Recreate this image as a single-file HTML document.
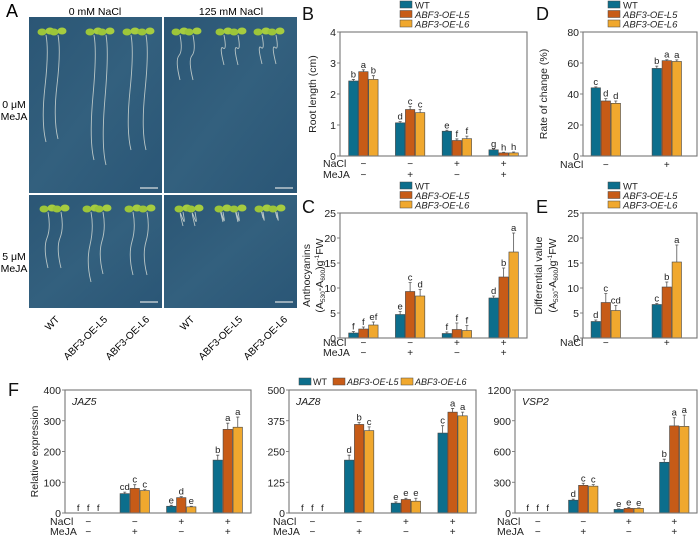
<!DOCTYPE html>
<html><head><meta charset="utf-8">
<style>
html,body{margin:0;padding:0;background:#fff;}
svg{display:block;font-family:"Liberation Sans",Arial,sans-serif;}
</style></head>
<body>
<svg id="fig" width="700" height="536" viewBox="0 0 700 536" xmlns="http://www.w3.org/2000/svg">
<defs>
<linearGradient id="plate" x1="0" y1="0" x2="1" y2="1">
<stop offset="0" stop-color="#2b5675"/><stop offset="0.5" stop-color="#33607e"/><stop offset="1" stop-color="#2a5676"/>
</linearGradient>
</defs>
<g id="panelA">
<text x="6" y="17" font-size="18">A</text>
<text x="95" y="15" font-size="10.5" text-anchor="middle">0 mM NaCl</text>
<text x="231" y="15" font-size="10.5" text-anchor="middle">125 mM NaCl</text>
<text x="14" y="108" font-size="10.5" text-anchor="middle">0 μM</text>
<text x="14" y="120" font-size="10.5" text-anchor="middle">MeJA</text>
<text x="14" y="260" font-size="10.5" text-anchor="middle">5 μM</text>
<text x="14" y="272" font-size="10.5" text-anchor="middle">MeJA</text>
<rect x="29" y="17" width="133" height="176" fill="url(#plate)"/>
<rect x="164" y="17" width="133" height="176" fill="url(#plate)"/>
<rect x="29" y="195" width="133" height="113" fill="url(#plate)"/>
<rect x="164" y="195" width="133" height="113" fill="url(#plate)"/>
<g id="seedlings"></g>
</g>
<g id="charts"></g>
</svg>
<script>
const NS="http://www.w3.org/2000/svg";
const root=document.getElementById('charts');
function mk(tag,attrs,parent){const e=document.createElementNS(NS,tag);for(const k in attrs)e.setAttribute(k,attrs[k]);(parent||root).appendChild(e);return e;}

// ---- seedlings (photo panel) ----
const sg=document.getElementById('seedlings');
const seedX=[[46,58,94,106,131,146],[180,193,224,238,262,276],[48,61,91,103,133,147],[183,195,223,238,263,277]];
const rootEnd=[[142,139,160,165,150,150],[80,80,65,65,64,64],[268,268,282,274,275,275],[226,226,222,222,218,218]];
const panTop=[31,31,208,208];
for(let p=0;p<4;p++){
  for(let i=0;i<6;i++){
    const x=seedX[p][i],y=panTop[p];
    const r=mk('path',{d:`M${x} ${y+4} Q${x+3} ${y+20} ${x-1} ${(y+rootEnd[p][i])/2} T${x} ${rootEnd[p][i]}`,stroke:'#b9c6c6',fill:'none','stroke-width':'0.9'},sg);
    
    
    const c1=mk('ellipse',{cx:x-4,cy:y+1,rx:4.5,ry:3.5,fill:'#9cc53a'},sg);
    
    
    const c2=mk('ellipse',{cx:x+4,cy:y,rx:4.5,ry:3.5,fill:'#a6cc40'},sg);
    
    
  }
}
[[140,188],[275,188],[140,302],[275,302]].forEach(s=>{
  const l=mk('line',{x1:s[0],x2:s[0]+18,y1:s[1],y2:s[1],stroke:'#d8dde0','stroke-width':'1.3'},sg);
  
  
});
const genoLabels=['WT','ABF3-OE-L5','ABF3-OE-L6','WT','ABF3-OE-L5','ABF3-OE-L6'];
const genoX=[60,108,150,195,243,288];
genoLabels.forEach((t,i)=>{
  const e=mk('text',{x:genoX[i],y:320,'font-size':'10','text-anchor':'end',transform:`rotate(-45 ${genoX[i]} 320)`},sg);
  e.textContent=t;
  
  
});

// ---- chart data ----
const bWT=[2.42,1.07,0.8,0.2], bL5=[2.72,1.5,0.5,0.1], bL6=[2.47,1.4,0.56,0.1];
const bErrWT=[0.05,0.04,0.03,0.03], bErrL5=[0.06,0.1,0.05,0.02], bErrL6=[0.12,0.1,0.08,0.03];
const bLetters=[['b','d','e','g'],['a','c','f','h'],['b','c','f','h']];
const bTicks=[0,1,2,3,4];

const dWT=[44,56.5], dL5=[35.5,61.5], dL6=[34,61];
const dErrWT=[0.6,1.5], dErrL5=[1.5,0.6], dErrL6=[1.5,1];
const dLetters=[['c','b'],['d','a'],['d','a']];
const dTicks=[0,20,40,60,80];

const cWT=[1,4.7,0.9,8], cL5=[1.8,9.3,1.7,12.2], cL6=[2.6,8.4,1.5,17.2];
const cErrWT=[0.3,0.6,0.3,0.4], cErrL5=[0.4,1.8,1.3,1.8], cErrL6=[0.6,1.3,1.0,3.8];
const cLetters=[['f','e','f','d'],['f','c','f','b'],['ef','d','f','a']];
const cTicks=[0,5,10,15,20,25];

const eWT=[3.3,6.7], eL5=[7.1,10.2], eL6=[5.5,15.2];
const eErrWT=[0.3,0.2], eErrL5=[1.8,1.0], eErrL6=[1.0,3.4];
const eLetters=[['d','c'],['c','b'],['cd','a']];
const eTicks=[0,5,10,15,20,25];

const jaz5WT=[0,63,22,172], jaz5L5=[0,80,50,272], jaz5L6=[0,73,20,279];
const jaz5ErrWT=[0,5,3,16], jaz5ErrL5=[0,12,3,20], jaz5ErrL6=[0,3,2,33];
const jaz5Letters=[['f','cd','e','b'],['f','c','d','a'],['f','c','e','a']];
const jaz5Ticks=[0,100,200,300,400];

const jaz8WT=[0,215,40,325], jaz8L5=[0,360,55,410], jaz8L6=[0,335,48,395];
const jaz8ErrWT=[0,20,5,30], jaz8ErrL5=[0,8,5,15], jaz8ErrL6=[0,15,12,15];
const jaz8Letters=[['f','d','e','c'],['f','b','e','a'],['f','c','e','a']];
const jaz8Ticks=[0,125,250,375,500];

const vspWT=[0,125,35,495], vspL5=[0,270,45,850], vspL6=[0,262,45,845];
const vspErrWT=[0,10,5,30], vspErrL5=[0,20,10,80], vspErrL6=[0,15,5,110];
const vspLetters=[['f','d','e','b'],['f','c','e','a'],['f','c','e','a']];
const vspTicks=[0,300,600,900,1200];

const naclRow4=['−','−','+','+'], mejaRow4=['−','+','−','+'];
const naclRow2=['−','+'];
const seriesNames=['WT','ABF3-OE-L5','ABF3-OE-L6'];
const colors=['#0c6e8c','#c75b17','#f0a82e'];

function chart(o){
  const g=mk('g',{});
  
  
  const max=o.ticks[o.ticks.length-1];
  const yS=v=>o.y1-(v/max)*(o.y1-o.y0);
  const n=o.series[0].length;
  const xC=i=> o.centers ? o.x0+(o.x1-o.x0)*o.centers[i] : o.x0+(i+0.5)*(o.x1-o.x0)/n;
  const bw=9.4;
  o.ticks.forEach(t=>{
    const y=yS(t);
    const tl=mk('line',{x1:o.x0-3,x2:o.x0,y1:y,y2:y,stroke:'#666','stroke-width':'0.8'},g);
    
    
    const tt=mk('text',{x:o.x0-4,y:y+4,'font-size':'10.5','text-anchor':'end',fill:'#222'},g);
    tt.textContent=t;
    
    
  });
  for(let s=0;s<3;s++){
    for(let i=0;i<n;i++){
      const v=o.series[s][i],e=o.err[s][i];
      const cx=xC(i)+(s-1)*(bw+0.6);
      const yt=yS(v);
      if(v>0){
        const r=mk('rect',{x:cx-bw/2,y:yt,width:bw,height:o.y1-yt,fill:colors[s],stroke:'#444','stroke-width':'0.6'},g);
        
        
      }
      const ye=yS(v+e);
      if(e>0){
        const el=mk('path',{d:`M${cx} ${yt} V${ye} M${cx-1.5} ${ye} H${cx+1.5}`,stroke:'#555','stroke-width':'0.8',fill:'none'},g);
        
        
      }
      const lt=mk('text',{x:cx,y:Math.min(ye,yt)-2,'font-size':'9.5','text-anchor':'middle',fill:'#222'},g);
      lt.textContent=o.letters[s][i];
      
      
    }
  }
  const bx=mk('rect',{x:o.x0,y:o.y0,width:o.x1-o.x0,height:o.y1-o.y0,fill:'none',stroke:'#777','stroke-width':'1.1'},g);
  
  
  o.rows.forEach((row,ri)=>{
    const ry=o.rowY[ri];
    const lab=mk('text',{x:o.rowLabelX,y:ry,'font-size':'10.5',fill:'#222'},g);
    lab.textContent=row[0];
    
    
    row[1].forEach((sgn,i)=>{
      const t=mk('text',{x:xC(i),y:ry,'font-size':'10','text-anchor':'middle',fill:'#222'},g);
      t.textContent=sgn;
      
      
    });
  });
  o.title.forEach((line,li)=>{
    const tx=o.titleX[li], ty=(o.y0+o.y1)/2;
    const t=mk('text',{x:tx,y:ty,'font-size':'10.5','text-anchor':'middle',transform:`rotate(-90 ${tx} ${ty})`,fill:'#222'},g);
    t.innerHTML=line;
    
    
  });
  if(o.gene){
    const t=mk('text',{x:o.x0+7,y:o.y0+15,'font-size':'10.5','font-style':'italic',fill:'#222'},g);
    t.textContent=o.gene;
    
    
  }
  if(o.panel){
    const t=mk('text',{x:o.panel[1],y:o.panel[2],'font-size':'18',fill:'#111'},g);
    t.textContent=o.panel[0];
    
    
  }
  if(o.legend){
    seriesNames.forEach((nm,s)=>{
      const ly=o.legend[1]+s*9.5;
      const sw=mk('rect',{x:o.legend[0],y:ly-4,width:12,height:7,fill:colors[s],stroke:'#444','stroke-width':'0.5'},g);
      
      
      const t=mk('text',{x:o.legend[0]+15,y:ly+3.5,'font-size':'9.5','font-style':s?'italic':'normal',fill:'#222'},g);
      t.textContent=nm;
      
      
    });
  }
}
const sub='<tspan font-size="6.5" dy="2">',sup='<tspan font-size="6.5" dy="-4">';
const absTitle=`(A${sub}530</tspan><tspan dy="-2">-A</tspan>${sub}600</tspan><tspan dy="-2">)g</tspan>${sup}-1</tspan><tspan dy="4">FW</tspan>`;

chart({name:'chart-b-root-length',x0:340,x1:527,y0:32,y1:156,ticks:bTicks,series:[bWT,bL5,bL6],err:[bErrWT,bErrL5,bErrL6],letters:bLetters,
  rows:[['NaCl',naclRow4],['MeJA',mejaRow4]],rowY:[167,178],rowLabelX:323,title:['Root length (cm)'],titleX:[316],panel:['B',302,20],legend:[400,5]});
chart({name:'chart-d-rate-of-change',x0:583,x1:697,y0:32,y1:156,ticks:dTicks,series:[dWT,dL5,dL6],err:[dErrWT,dErrL5,dErrL6],letters:dLetters,centers:[0.2,0.735],
  rows:[['NaCl',naclRow2]],rowY:[168],rowLabelX:560,title:['Rate of change (%)'],titleX:[547],panel:['D',536,20],legend:[608,5]});
chart({name:'chart-c-anthocyanins',x0:340,x1:527,y0:213,y1:338,ticks:cTicks,series:[cWT,cL5,cL6],err:[cErrWT,cErrL5,cErrL6],letters:cLetters,
  rows:[['NaCl',naclRow4],['MeJA',mejaRow4]],rowY:[346,356],rowLabelX:323,title:['Anthocyanins',absTitle],titleX:[310,323],panel:['C',302,213],legend:[400,186]});
chart({name:'chart-e-differential-value',x0:583,x1:697,y0:213,y1:338,ticks:eTicks,series:[eWT,eL5,eL6],err:[eErrWT,eErrL5,eErrL6],letters:eLetters,centers:[0.2,0.735],
  rows:[['NaCl',naclRow2]],rowY:[346],rowLabelX:560,title:['Differential value',absTitle],titleX:[542,556],panel:['E',536,213],legend:[608,186]});
chart({name:'chart-f-jaz5',x0:65,x1:251,y0:390,y1:513,ticks:jaz5Ticks,series:[jaz5WT,jaz5L5,jaz5L6],err:[jaz5ErrWT,jaz5ErrL5,jaz5ErrL6],letters:jaz5Letters,
  rows:[['NaCl',naclRow4],['MeJA',mejaRow4]],rowY:[525,535],rowLabelX:50,title:['Relative expression'],titleX:[38],gene:'JAZ5',panel:['F',8,396]});
chart({name:'chart-f-jaz8',x0:289,x1:476,y0:390,y1:513,ticks:jaz8Ticks,series:[jaz8WT,jaz8L5,jaz8L6],err:[jaz8ErrWT,jaz8ErrL5,jaz8ErrL6],letters:jaz8Letters,
  rows:[['NaCl',naclRow4],['MeJA',mejaRow4]],rowY:[525,535],rowLabelX:273,title:[],titleX:[],gene:'JAZ8'});
chart({name:'chart-f-vsp2',x0:515,x1:697,y0:390,y1:513,ticks:vspTicks,series:[vspWT,vspL5,vspL6],err:[vspErrWT,vspErrL5,vspErrL6],letters:vspLetters,
  rows:[['NaCl',naclRow4],['MeJA',mejaRow4]],rowY:[525,535],rowLabelX:497,title:[],titleX:[],gene:'VSP2'});
const fLegX=[299,333,401];
seriesNames.forEach((nm,s)=>{
  const sw=mk('rect',{x:fLegX[s],y:378,width:12,height:7,fill:colors[s],stroke:'#444','stroke-width':'0.5'});
  
  
  const t=mk('text',{x:fLegX[s]+14,y:385,'font-size':'9','font-style':s?'italic':'normal',fill:'#222'});
  t.textContent=nm;
  
  
});
</script>
</body></html>
